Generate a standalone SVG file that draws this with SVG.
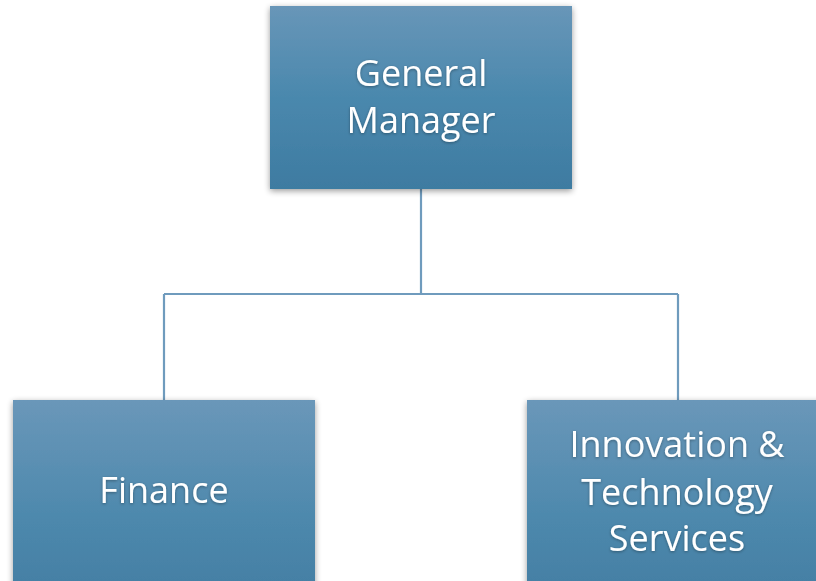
<svg xmlns="http://www.w3.org/2000/svg" width="816" height="581" viewBox="0 0 816 581">
<defs>
<linearGradient id="g" x1="0" y1="0" x2="0" y2="1">
<stop offset="0" stop-color="#6896b8"/>
<stop offset="0.5" stop-color="#4a88ad"/>
<stop offset="1" stop-color="#3e7ba1"/>
</linearGradient>
<linearGradient id="g2" x1="0" y1="0" x2="0" y2="1">
<stop offset="0" stop-color="#6a97b9"/>
<stop offset="0.6" stop-color="#4e89ad"/>
<stop offset="1" stop-color="#447fa4"/>
</linearGradient>
<filter id="sh" x="-10%" y="-10%" width="120%" height="120%">
<feGaussianBlur in="SourceAlpha" stdDeviation="3"/>
<feOffset dx="0" dy="2" result="b"/>
<feComponentTransfer><feFuncA type="linear" slope="0.4"/></feComponentTransfer>
<feMerge><feMergeNode/><feMergeNode in="SourceGraphic"/></feMerge>
</filter>
<filter id="ts" x="-10%" y="-20%" width="120%" height="140%">
<feGaussianBlur in="SourceAlpha" stdDeviation="1.5"/>
<feOffset dx="0" dy="1"/>
<feComponentTransfer><feFuncA type="linear" slope="0.35"/></feComponentTransfer>
<feMerge><feMergeNode/><feMergeNode in="SourceGraphic"/></feMerge>
</filter>
</defs>
<style>
.lbl{font-family:"Open Sans","Noto Sans","Liberation Sans",sans-serif;font-size:36px;fill:#ffffff;text-anchor:middle;filter:url(#ts)}
.conn{fill:none;stroke:#6f9bbd;stroke-width:2.2}
</style>
<rect width="816" height="581" fill="#ffffff"/>
<g id="connectors">
<path class="conn" d="M421,189 V294 M164,294 H678 M164,294 V400 M678,294 V400"/>
</g>
<g id="general-manager">
<rect x="270" y="6" width="302" height="183" fill="url(#g)" filter="url(#sh)"/>
<text class="lbl" x="421" y="86">General</text>
<text class="lbl" x="421" y="133">Manager</text>
</g>
<g id="finance">
<rect x="13" y="400" width="302" height="190" fill="url(#g2)" filter="url(#sh)"/>
<text class="lbl" x="164" y="503">Finance</text>
</g>
<g id="its">
<rect x="527" y="400" width="302" height="190" fill="url(#g2)" filter="url(#sh)"/>
<text class="lbl" x="677" y="457">Innovation &amp;</text>
<text class="lbl" x="677" y="505">Technology</text>
<text class="lbl" x="677" y="551">Services</text>
</g>
</svg>
